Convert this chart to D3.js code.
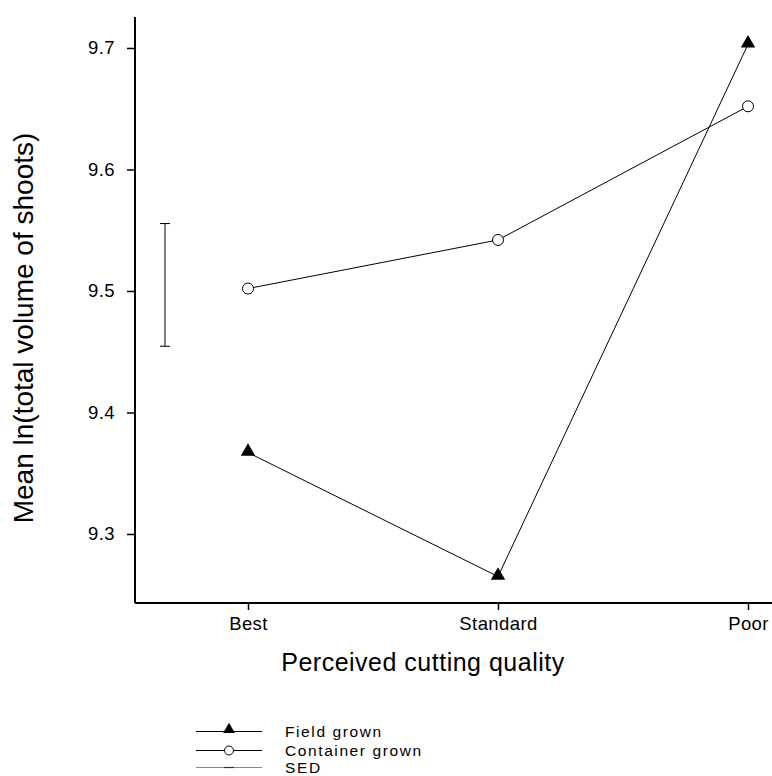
<!DOCTYPE html>
<html>
<head>
<meta charset="utf-8">
<script src="https://cdn.jsdelivr.net/npm/d3@7"></script>
<style>
  body { margin: 0; background: #fff; }
  svg { display: block; font-family: Arial, "Liberation Sans", sans-serif; }
</style>
</head>
<body>
<svg id="chart" width="772" height="776"></svg>
<script>
// Cutting quality categories and their positions on the x scale
const categories = ["Best", "Standard", "Poor"];
const categoryPos = [1, 2, 3];

// Mean ln(total volume of shoots) per group
const fieldGrown = [9.367, 9.265, 9.703];
const containerGrown = [9.502, 9.542, 9.652];

// Standard error of difference bar
const sedCentre = 9.505;
const sedValue = 0.101;
const sedPos = 0.668;

const yTicks = [9.3, 9.4, 9.5, 9.6, 9.7];

const svg = d3.select("#chart");

const x = d3.scaleLinear().domain([0.548, 3.096]).range([135, 772]);
const y = d3.scaleLinear().domain([9.2432, 9.7255]).range([603, 17]);

// Axes
const yAxis = d3.axisLeft(y).tickValues(yTicks).tickFormat(d3.format(".1f")).tickSize(8).tickPadding(12);
const xAxis = d3.axisBottom(x).tickValues(categoryPos).tickFormat((d, i) => categories[i]).tickSize(7).tickPadding(7);

const gy = svg.append("g").attr("transform", "translate(135,0)").call(yAxis);
const gx = svg.append("g").attr("transform", "translate(0,603)").call(xAxis);
[gx, gy].forEach(g => {
  g.select(".domain").attr("stroke", "#000").attr("stroke-width", 2);
  g.selectAll(".tick line").attr("stroke", "#000").attr("stroke-width", 1.5);
  g.selectAll(".tick text").attr("fill", "#000").attr("font-size", 18.5)
    .attr("letter-spacing", 0.4)
    .attr("font-family", "Arial, 'Liberation Sans', sans-serif");
});
gy.select(".domain").attr("d", `M0,${y.range()[1]}V${y.range()[0]}`);
gx.select(".domain").attr("d", `M${x.range()[0]},0H${x.range()[1]}`);

// Axis titles
svg.append("text")
  .attr("x", 423).attr("y", 671)
  .attr("text-anchor", "middle")
  .attr("font-size", 25)
  .attr("letter-spacing", 0.5)
  .text("Perceived cutting quality");

svg.append("text")
  .attr("transform", "translate(33,328) rotate(-90)")
  .attr("text-anchor", "middle")
  .attr("font-size", 28)
  .text("Mean ln(total volume of shoots)");

// SED bar
const sedTop = y(sedCentre + sedValue / 2), sedBot = y(sedCentre - sedValue / 2);
const sedX = x(sedPos);
const sedG = svg.append("g").attr("stroke", "#000").attr("stroke-width", 1);
sedG.append("line").attr("x1", sedX).attr("x2", sedX).attr("y1", sedTop).attr("y2", sedBot);
sedG.append("line").attr("x1", sedX - 5).attr("x2", sedX + 5).attr("y1", sedTop).attr("y2", sedTop);
sedG.append("line").attr("x1", sedX - 5).attr("x2", sedX + 5).attr("y1", sedBot).attr("y2", sedBot);

// Series lines
const line = d3.line().x((d, i) => x(categoryPos[i])).y(d => y(d));
svg.append("path").datum(fieldGrown).attr("d", line).attr("fill", "none").attr("stroke", "#000").attr("stroke-width", 1);
svg.append("path").datum(containerGrown).attr("d", line).attr("fill", "none").attr("stroke", "#000").attr("stroke-width", 1);

// Markers
const tri = d3.symbol().type(d3.symbolTriangle).size(90);
svg.selectAll(".tri").data(fieldGrown).enter().append("path")
  .attr("transform", (d, i) => `translate(${x(categoryPos[i])},${y(d) - 1})`)
  .attr("d", tri).attr("fill", "#000");

svg.selectAll(".circ").data(containerGrown).enter().append("circle")
  .attr("cx", (d, i) => x(categoryPos[i])).attr("cy", d => y(d)).attr("r", 5.5)
  .attr("fill", "#fff").attr("stroke", "#000").attr("stroke-width", 1);

// Legend
const legend = [
  { label: "Field grown", y: 731.5, mark: "tri" },
  { label: "Container grown", y: 750.5, mark: "circ" },
  { label: "SED", y: 767.5, mark: "sed" }
];
const lg = svg.append("g");
legend.forEach(l => {
  if (l.mark === "sed") {
    lg.append("line").attr("x1", 196).attr("x2", 262).attr("y1", l.y).attr("y2", l.y).attr("stroke", "#888").attr("stroke-width", 1.2);
    lg.append("line").attr("x1", 224).attr("x2", 234).attr("y1", l.y).attr("y2", l.y).attr("stroke", "#333").attr("stroke-width", 1.2);
  } else {
    lg.append("line").attr("x1", 196).attr("x2", 262).attr("y1", l.y).attr("y2", l.y).attr("stroke", "#000").attr("stroke-width", 1);
    if (l.mark === "tri") {
      lg.append("path").attr("transform", `translate(229,${l.y - 2})`).attr("d", d3.symbol().type(d3.symbolTriangle).size(60)).attr("fill", "#000");
    } else {
      lg.append("circle").attr("cx", 229).attr("cy", l.y).attr("r", 4.5).attr("fill", "#fff").attr("stroke", "#000");
    }
  }
  lg.append("text").attr("x", 285).attr("y", l.y + 5).attr("font-size", 15.5)
    .attr("letter-spacing", 1.6).attr("fill", "#000").text(l.label);
});
</script>
</body>
</html>
